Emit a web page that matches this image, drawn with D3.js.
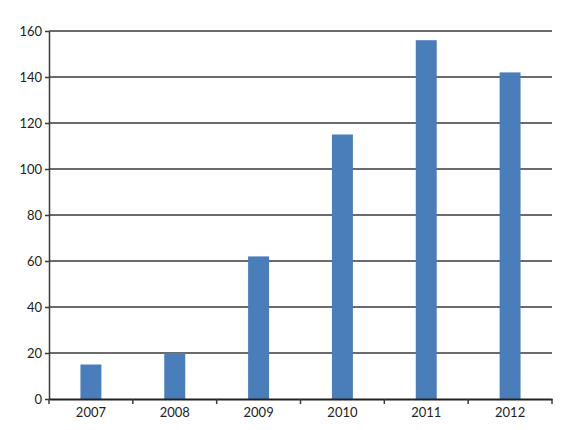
<!DOCTYPE html>
<html>
<head>
<meta charset="utf-8">
<script src="https://cdn.jsdelivr.net/npm/d3@7"></script>
<style>
  body { margin: 0; background: #fff; }
  svg text { font-family: Lato, "Open Sans", sans-serif; font-size: 13px; fill: #222; }
</style>
</head>
<body>
<div id="chart"></div>
<script>
'use strict';

// Data
const years = ['2007', '2008', '2009', '2010', '2011', '2012'];
const values = [15, 20, 62, 115, 156, 142];
const yTicks = [0, 20, 40, 60, 80, 100, 120, 140, 160];

const width = 564, height = 430;
const margin = {top: 31, right: 12, bottom: 31, left: 49};

let svg = d3.select('#chart').append('svg')
    .attr('width', width).attr('height', height);

let chart = svg.append('g').attr('transform', `translate(${margin.left},${margin.top})`);
let w = width - margin.left - margin.right, h = height - margin.top - margin.bottom;

let x = d3.scaleBand().domain(years).range([0, w]).paddingInner(0.75).paddingOuter(0.375);
let y = d3.scaleLinear().domain([0, 160]).range([h, 0]);

// Gridlines
chart.selectAll('line.grid')
    .data(yTicks.filter(d => d > 0))
    .join('line')
    .classed('grid', true)
    .attr('x1', 0).attr('x2', w)
    .attr('y1', d => y(d)).attr('y2', d => y(d))
    .attr('stroke', '#3a3a3a')
    .attr('stroke-width', 1.5);

// Bars
chart.selectAll('rect.bar')
    .data(values)
    .join('rect')
    .classed('bar', true)
    .attr('x', (d, i) => x(years[i]))
    .attr('y', d => y(d))
    .attr('width', x.bandwidth())
    .attr('height', d => h - y(d))
    .attr('fill', '#4a7ebb');

// Y axis
let yAxis = chart.append('g')
    .call(d3.axisLeft(y).tickValues(yTicks).tickSize(4).tickPadding(3).tickSizeOuter(0));
yAxis.select('.domain').attr('stroke', '#3a3a3a').attr('stroke-width', 1.5);
yAxis.selectAll('.tick line').attr('stroke', '#3a3a3a').attr('stroke-width', 1.5);

// X axis: ticks sit between categories
let xAxis = chart.append('g').attr('transform', `translate(0,${h})`)
    .call(d3.axisBottom(x).tickSize(0).tickPadding(9));
xAxis.select('.domain').attr('stroke', '#222').attr('stroke-width', 2);
let step = x.step();
chart.append('g').attr('transform', `translate(0,${h})`)
    .selectAll('line')
    .data(d3.range(years.length + 1))
    .join('line')
    .attr('x1', i => i * step).attr('x2', i => i * step)
    .attr('y1', 0).attr('y2', 5)
    .attr('stroke', '#3a3a3a')
    .attr('stroke-width', 1.5);

svg.selectAll('text').style('font-size', '13px');
</script>
</body>
</html>
